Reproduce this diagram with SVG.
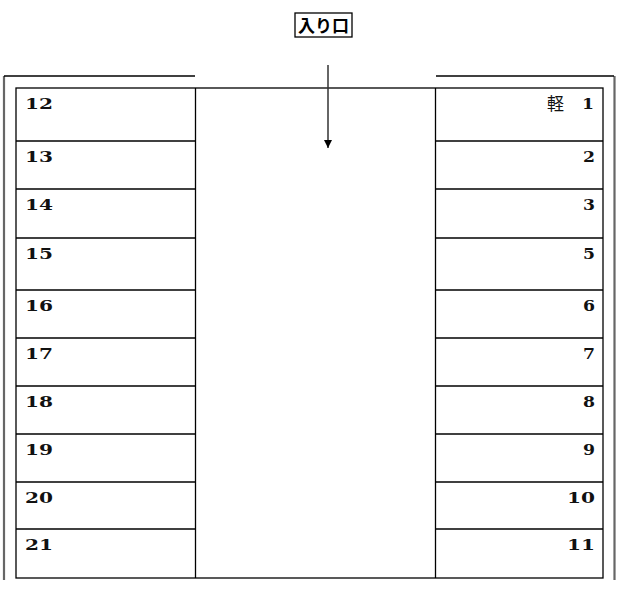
<svg xmlns="http://www.w3.org/2000/svg" width="620" height="597" viewBox="0 0 620 597">
<style>
.ln{stroke:#000;stroke-width:1.3;fill:none}
.wall{stroke:#666;stroke-width:2.2;fill:none}
.num{font-family:"DejaVu Serif","Liberation Serif",serif;font-weight:bold;font-size:14.5px;fill:#111}
.numr{font-family:"DejaVu Serif","Liberation Serif",serif;font-weight:bold;font-size:14.5px;fill:#111;text-anchor:end}
.ent{font-family:"Noto Sans CJK JP",sans-serif;font-weight:bold;font-size:17px;fill:#000}
</style>
<defs>
<marker id="ah" markerWidth="8" markerHeight="8" refX="8" refY="4" orient="auto" markerUnits="userSpaceOnUse">
<path d="M0,0 L8,4 L0,8 Z" fill="#000"/>
</marker>
</defs>
<g id="entrance">
<rect x="295" y="13" width="57" height="24" fill="#fff" stroke="#000" stroke-width="1.3"/>
<text class="ent" x="323.5" y="31.5" text-anchor="middle">入り口</text>
</g>
<g id="walls">
<line class="wall" x1="4" y1="76" x2="4" y2="580"/>
<line class="wall" x1="614.5" y1="76" x2="614.5" y2="580"/>
<line class="ln" x1="4" y1="76" x2="195" y2="76"/>
<line class="ln" x1="436" y1="76" x2="614" y2="76"/>
</g>
<g id="frame">
<rect class="ln" x="16" y="88" width="587" height="490"/>
<line class="ln" x1="195.5" y1="88" x2="195.5" y2="578"/>
<line class="ln" x1="435.5" y1="88" x2="435.5" y2="578"/>
</g>
<g id="left-spaces">
<line class="ln" x1="16" y1="141" x2="195" y2="141"/>
<line class="ln" x1="16" y1="189" x2="195" y2="189"/>
<line class="ln" x1="16" y1="238" x2="195" y2="238"/>
<line class="ln" x1="16" y1="290" x2="195" y2="290"/>
<line class="ln" x1="16" y1="338" x2="195" y2="338"/>
<line class="ln" x1="16" y1="386" x2="195" y2="386"/>
<line class="ln" x1="16" y1="434" x2="195" y2="434"/>
<line class="ln" x1="16" y1="482" x2="195" y2="482"/>
<line class="ln" x1="16" y1="529" x2="195" y2="529"/>
<text class="num" x="25" y="109" textLength="28" lengthAdjust="spacingAndGlyphs">12</text>
<text class="num" x="25" y="162" textLength="28" lengthAdjust="spacingAndGlyphs">13</text>
<text class="num" x="25" y="210" textLength="28" lengthAdjust="spacingAndGlyphs">14</text>
<text class="num" x="25" y="259" textLength="28" lengthAdjust="spacingAndGlyphs">15</text>
<text class="num" x="25" y="311" textLength="28" lengthAdjust="spacingAndGlyphs">16</text>
<text class="num" x="25" y="359" textLength="28" lengthAdjust="spacingAndGlyphs">17</text>
<text class="num" x="25" y="407" textLength="28" lengthAdjust="spacingAndGlyphs">18</text>
<text class="num" x="25" y="455" textLength="28" lengthAdjust="spacingAndGlyphs">19</text>
<text class="num" x="25" y="503" textLength="28" lengthAdjust="spacingAndGlyphs">20</text>
<text class="num" x="25" y="550" textLength="28" lengthAdjust="spacingAndGlyphs">21</text>
</g>
<g id="right-spaces">
<line class="ln" x1="435" y1="141" x2="603" y2="141"/>
<line class="ln" x1="435" y1="189" x2="603" y2="189"/>
<line class="ln" x1="435" y1="238" x2="603" y2="238"/>
<line class="ln" x1="435" y1="290" x2="603" y2="290"/>
<line class="ln" x1="435" y1="338" x2="603" y2="338"/>
<line class="ln" x1="435" y1="386" x2="603" y2="386"/>
<line class="ln" x1="435" y1="434" x2="603" y2="434"/>
<line class="ln" x1="435" y1="482" x2="603" y2="482"/>
<line class="ln" x1="435" y1="529" x2="603" y2="529"/>
<text x="547" y="110" style="font-family:'Noto Sans CJK JP',sans-serif;font-size:17px;fill:#111">軽</text>
<text class="numr" x="594" y="109" textLength="12" lengthAdjust="spacingAndGlyphs">1</text>
<text class="numr" x="595" y="162" textLength="12" lengthAdjust="spacingAndGlyphs">2</text>
<text class="numr" x="595" y="210" textLength="12" lengthAdjust="spacingAndGlyphs">3</text>
<text class="numr" x="595" y="259" textLength="12" lengthAdjust="spacingAndGlyphs">5</text>
<text class="numr" x="595" y="311" textLength="12" lengthAdjust="spacingAndGlyphs">6</text>
<text class="numr" x="595" y="359" textLength="12" lengthAdjust="spacingAndGlyphs">7</text>
<text class="numr" x="595" y="407" textLength="12" lengthAdjust="spacingAndGlyphs">8</text>
<text class="numr" x="595" y="455" textLength="12" lengthAdjust="spacingAndGlyphs">9</text>
<text class="numr" x="595" y="503" textLength="28" lengthAdjust="spacingAndGlyphs">10</text>
<text class="numr" x="595" y="550" textLength="28" lengthAdjust="spacingAndGlyphs">11</text>
</g>
<g id="connectors">
<line x1="328" y1="65" x2="328" y2="148" stroke="#333" stroke-width="1.5" marker-end="url(#ah)"/>
</g>
</svg>
